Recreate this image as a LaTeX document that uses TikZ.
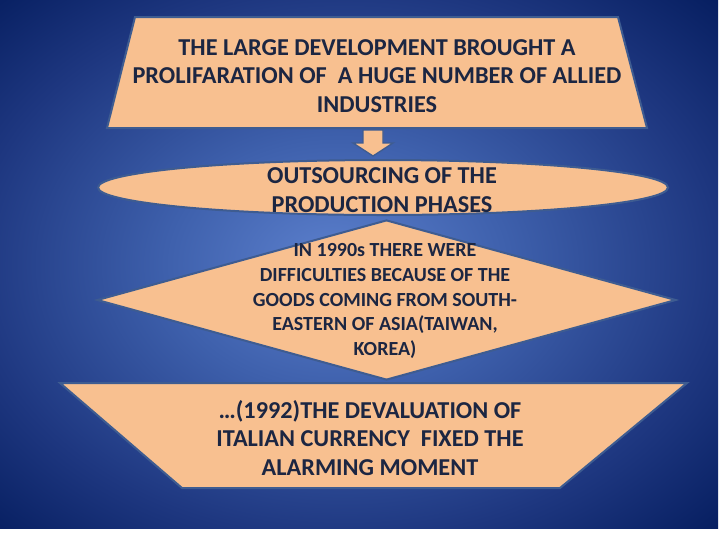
\documentclass[tikz,border=0pt]{standalone}
\usepackage{fontspec}
\setmainfont{Carlito}
\usetikzlibrary{shapes.geometric,calc}

\definecolor{peach}{RGB}{248,192,144}
\definecolor{edge}{RGB}{62,92,145}
\definecolor{ink}{RGB}{28,38,66}
\definecolor{bglight}{RGB}{92,128,205}
\definecolor{bgmid}{RGB}{62,96,172}
\definecolor{bgdark}{RGB}{30,55,128}
\definecolor{bgcorner}{RGB}{6,30,96}

\pgfdeclareradialshading{bgshade}{\pgfpoint{-2bp}{0bp}}{%
  color(0bp)=(bglight); color(12bp)=(bgmid); color(26bp)=(bgdark);
  color(36bp)=(bgcorner); color(50bp)=(bgcorner)}

\begin{document}
\begin{tikzpicture}[x=0.75pt, y=-0.75pt,
    box/.style={draw=edge, line width=1.5pt, fill=peach, inner sep=0pt},
    txt/.style={align=center, text=ink, font=\bfseries\fontsize{18.2}{21.4}\selectfont},
    small/.style={align=center, text=ink, font=\bfseries\fontsize{15}{18.4}\selectfont}]
    % Background
    \useasboundingbox (0,0) rectangle (720,540);
    \fill[white] (0,0) rectangle (720,540);
    \shade[shading=bgshade] (0,0) rectangle (718,528);

    % Shapes
    \draw[box] (135,17) -- (618,17) -- (647,128) -- (107,128) -- cycle;
    \node (outsrc) [box, ellipse, minimum width=427.5pt, minimum height=41.25pt] at (383,187.5) {};
    \node (diff) [box, diamond, minimum width=434.25pt, minimum height=120pt] at (386.5,300) {};
    \draw[box] (60,383) -- (687,383) -- (560,488) -- (182,488) -- cycle;

    % Texts
    \node (large) [txt] at (377,76) {THE LARGE DEVELOPMENT BROUGHT A\\PROLIFARATION OF\ \ A HUGE NUMBER OF ALLIED\\INDUSTRIES};
    \node (outsrctxt) [txt] at (382,190) {OUTSOURCING OF THE\\PRODUCTION PHASES};
    \node (difftxt) [small] at (385,301) {IN 1990s THERE WERE\\DIFFICULTIES BECAUSE OF THE\\GOODS COMING FROM SOUTH-\\EASTERN OF ASIA(TAIWAN,\\KOREA)};
    \node (deval) [txt] at (370,438) {\dots(1992)THE DEVALUATION OF\\ITALIAN CURRENCY\ \ FIXED THE\\ALARMING MOMENT};

    % Arrow
    \coordinate (tip) at (373,156);
    \draw[box, line width=1pt] ($(tip)+(-10,-26)$) -- ($(tip)+(10,-26)$) -- ($(tip)+(10,-13)$)
        -- ($(tip)+(20,-13)$) -- (tip) -- ($(tip)+(-20,-13)$) -- ($(tip)+(-10,-13)$) -- cycle;
\end{tikzpicture}
\end{document}
